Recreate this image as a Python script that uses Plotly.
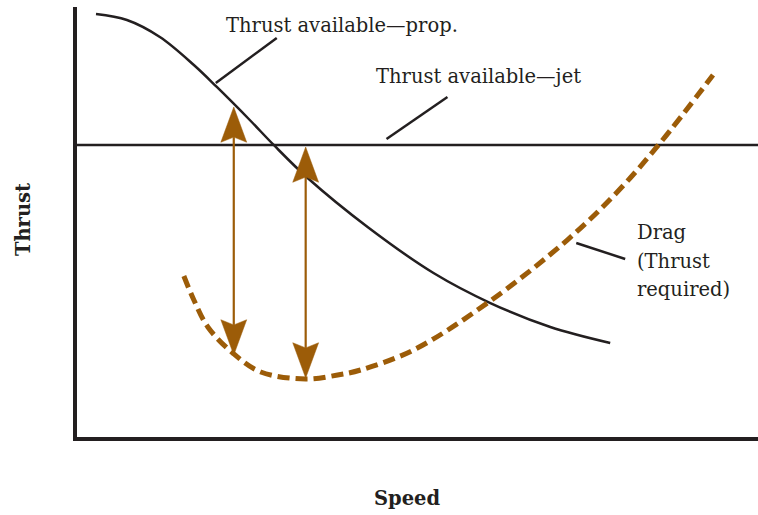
import plotly.graph_objects as go

# Data (units: speed 0-100, thrust 0-100)
prop_speed = [2.79, 7.33, 12.17, 17.16, 20.53, 25.37, 28.89, 33.87, 42.67, 52.35, 60.70, 69.50, 78.30]
prop_thrust = [98.37, 96.98, 93.02, 86.51, 81.40, 73.72, 67.91, 60.23, 48.84, 38.14, 31.16, 25.58, 21.86]

drag_speed = [15.69, 17.16, 19.21, 22.87, 26.98, 33.58, 38.27, 41.64, 49.41, 60.26, 71.99, 79.33, 85.63, 93.40]
drag_thrust = [37.44, 31.86, 25.58, 19.53, 15.12, 13.49, 14.42, 15.58, 20.23, 31.16, 45.81, 56.98, 68.37, 84.19]

jet_speed = [0, 100]
jet_thrust = [67.91, 67.91]

# Excess-thrust arrows: (speed, top thrust, bottom thrust)
arrow_speed = [23.02, 33.58]
arrow_top = [76.74, 67.44]
arrow_bottom = [19.07, 13.72]

# Leader lines (x0, y0, x1, y1)
leaders = [
    (20.38, 82.33, 29.33, 92.79),
    (45.45, 69.30, 54.40, 79.07),
    (73.31, 45.12, 80.50, 41.40),
]

# Labels (text, x, y)
labels = [
    ("Thrust available\u2014prop.", 21.55, 95.81),
    ("Thrust available\u2014jet", 43.55, 83.95),
    ("Drag", 81.96, 47.67),
    ("(Thrust", 81.96, 40.93),
    ("required)", 81.96, 34.19),
]

BROWN = "#9C5C08"
INK = "#231F20"
FONT = "DejaVu Serif"

# arrowhead geometry (style, in axis units)
HEAD_HALF_W = 1.9
HEAD_LEN = 8.2
HEAD_NOTCH = 7.0

fig = go.Figure()
fig.add_trace(go.Scatter(x=jet_speed, y=jet_thrust, mode="lines",
                         line=dict(color=INK, width=2.5), hoverinfo="skip"))
fig.add_trace(go.Scatter(x=prop_speed, y=prop_thrust, mode="lines",
                         line=dict(color=INK, width=2.5, shape="spline", smoothing=1.0),
                         hoverinfo="skip"))
fig.add_trace(go.Scatter(x=drag_speed, y=drag_thrust, mode="lines",
                         line=dict(color=BROWN, width=5, dash="12px,6px", shape="spline", smoothing=1.0),
                         hoverinfo="skip"))

for x0, y0, x1, y1 in leaders:
    fig.add_trace(go.Scatter(x=[x0, x1], y=[y0, y1], mode="lines",
                             line=dict(color=INK, width=2.5), hoverinfo="skip"))

for sx, top, bot in zip(arrow_speed, arrow_top, arrow_bottom):
    # shaft
    fig.add_trace(go.Scatter(x=[sx, sx], y=[top - HEAD_NOTCH, bot + HEAD_NOTCH], mode="lines",
                             line=dict(color=BROWN, width=2.2), hoverinfo="skip"))
    # top head
    fig.add_trace(go.Scatter(
        x=[sx, sx + HEAD_HALF_W, sx, sx - HEAD_HALF_W, sx],
        y=[top, top - HEAD_LEN, top - HEAD_NOTCH, top - HEAD_LEN, top],
        mode="lines", fill="toself", fillcolor=BROWN, line=dict(color=BROWN, width=0.5),
        hoverinfo="skip"))
    # bottom head
    fig.add_trace(go.Scatter(
        x=[sx, sx + HEAD_HALF_W, sx, sx - HEAD_HALF_W, sx],
        y=[bot, bot + HEAD_LEN, bot + HEAD_NOTCH, bot + HEAD_LEN, bot],
        mode="lines", fill="toself", fillcolor=BROWN, line=dict(color=BROWN, width=0.5),
        hoverinfo="skip"))

annotations = []
for t, x, y in labels:
    annotations.append(dict(x=x, y=y, xref="x", yref="y", text=t, showarrow=False,
                            xanchor="left", yanchor="middle",
                            font=dict(family=FONT, size=19.5, color=INK)))

annotations.append(dict(x=-0.0792, y=0.5046, xref="paper", yref="paper", text="<b>Thrust</b>",
                        showarrow=False, textangle=-90, xanchor="center", yanchor="middle",
                        font=dict(family=FONT, size=19.5, color=INK)))
annotations.append(dict(x=0.4853, y=-0.1435, xref="paper", yref="paper", text="<b>Speed</b>",
                        showarrow=False, xanchor="center", yanchor="middle",
                        font=dict(family=FONT, size=19.5, color=INK)))

fig.update_layout(
    width=758, height=515,
    margin=dict(l=77, r=0, t=7, b=78),
    paper_bgcolor="white", plot_bgcolor="white",
    showlegend=False,
    annotations=annotations,
    xaxis=dict(range=[0, 100], showgrid=False, zeroline=False, showticklabels=False, ticks="",
               showline=True, linecolor=INK, linewidth=4),
    yaxis=dict(range=[0, 100], showgrid=False, zeroline=False, showticklabels=False, ticks="",
               showline=True, linecolor=INK, linewidth=4),
)

fig.write_html("out.html", config={"displayModeBar": False},
               post_script="document.body.style.margin='0px';document.body.style.overflow='hidden';")
